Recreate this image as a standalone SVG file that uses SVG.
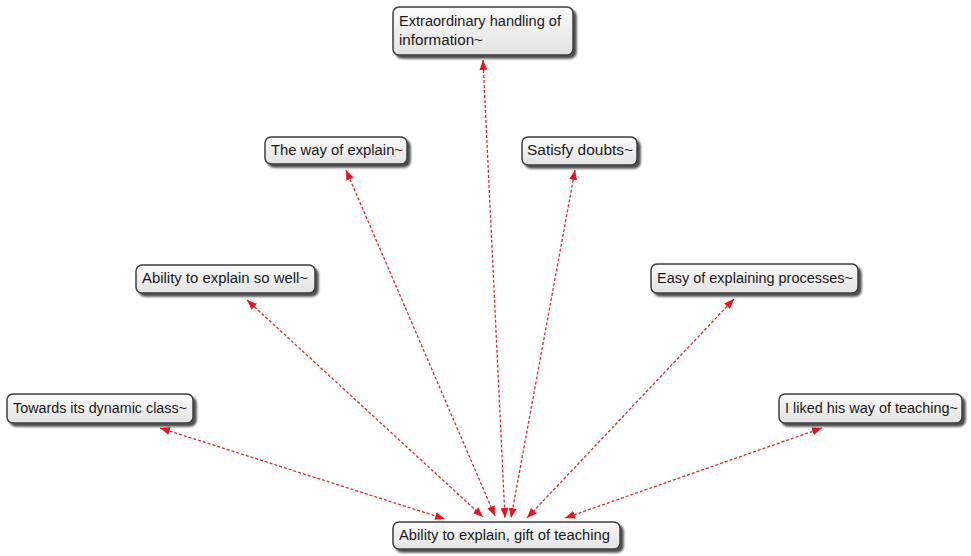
<svg xmlns="http://www.w3.org/2000/svg" width="971" height="556" viewBox="0 0 971 556">
  <defs>
    <linearGradient id="nodeFill" x1="0" y1="0" x2="0" y2="1">
      <stop offset="0" stop-color="#fbfbfb"/>
      <stop offset="1" stop-color="#e2e2e2"/>
    </linearGradient>
    <filter id="shadow" x="-10%" y="-30%" width="125%" height="170%">
      <feGaussianBlur in="SourceAlpha" stdDeviation="1.3"/>
      <feOffset dx="3" dy="3" result="s"/>
      <feComponentTransfer><feFuncA type="linear" slope="0.7"/></feComponentTransfer>
      <feMerge><feMergeNode/><feMergeNode in="SourceGraphic"/></feMerge>
    </filter>
    <marker id="arrow" viewBox="0 0 10 8" refX="10" refY="4" markerWidth="10" markerHeight="8" markerUnits="userSpaceOnUse" orient="auto-start-reverse">
      <path d="M0,0 L10,4 L0,8 Z" fill="#e4161b"/>
    </marker>
  </defs>
  <style>
    .box { fill: url(#nodeFill); stroke: #3c3c3c; stroke-width: 1.5; filter: url(#shadow); }
    .lbl { font-family: "Liberation Sans", "DejaVu Sans", sans-serif; font-size: 14px; fill: #1a1a1a; }
    .edge { stroke: #d62a2a; stroke-width: 1.3; stroke-dasharray: 3 2; fill: none; marker-start: url(#arrow); marker-end: url(#arrow); }
  </style>
  <rect width="971" height="556" fill="#ffffff"/>

  <g id="connectors">
    <line class="edge" x1="483" y1="60" x2="505" y2="518"/>
    <line class="edge" x1="346" y1="170" x2="495" y2="516"/>
    <line class="edge" x1="575" y1="170" x2="511" y2="518"/>
    <line class="edge" x1="247" y1="300" x2="483" y2="517"/>
    <line class="edge" x1="734" y1="299" x2="527" y2="518"/>
    <line class="edge" x1="160" y1="428" x2="445" y2="519"/>
    <line class="edge" x1="822" y1="428" x2="565" y2="518"/>
  </g>

  <g id="node-extraordinary">
    <rect class="box" x="393" y="7" width="180" height="48" rx="6"/>
    <text class="lbl" x="399" y="26" textLength="162" lengthAdjust="spacingAndGlyphs">Extraordinary handling of</text>
    <text class="lbl" x="399" y="45" textLength="84" lengthAdjust="spacingAndGlyphs">information~</text>
  </g>
  <g id="node-way-of-explain">
    <rect class="box" x="265" y="137" width="142" height="27" rx="6"/>
    <text class="lbl" x="271" y="155" textLength="132" lengthAdjust="spacingAndGlyphs">The way of explain~</text>
  </g>
  <g id="node-satisfy-doubts">
    <rect class="box" x="522" y="137" width="115" height="28" rx="6"/>
    <text class="lbl" x="527" y="155" textLength="106" lengthAdjust="spacingAndGlyphs">Satisfy doubts~</text>
  </g>
  <g id="node-explain-so-well">
    <rect class="box" x="136" y="265" width="179" height="28" rx="6"/>
    <text class="lbl" x="142" y="283" textLength="166" lengthAdjust="spacingAndGlyphs">Ability to explain so well~</text>
  </g>
  <g id="node-easy-explaining">
    <rect class="box" x="651" y="264" width="207" height="29" rx="6"/>
    <text class="lbl" x="657" y="283" textLength="196" lengthAdjust="spacingAndGlyphs">Easy of explaining processes~</text>
  </g>
  <g id="node-dynamic-class">
    <rect class="box" x="7" y="394" width="186" height="29" rx="6"/>
    <text class="lbl" x="13" y="413" textLength="174" lengthAdjust="spacingAndGlyphs">Towards its dynamic class~</text>
  </g>
  <g id="node-way-of-teaching">
    <rect class="box" x="779" y="394" width="183" height="29" rx="6"/>
    <text class="lbl" x="785" y="413" textLength="173" lengthAdjust="spacingAndGlyphs">I liked his way of teaching~</text>
  </g>
  <g id="node-gift-of-teaching">
    <rect class="box" x="393" y="522" width="227" height="27" rx="6"/>
    <text class="lbl" x="399" y="540" textLength="211" lengthAdjust="spacingAndGlyphs">Ability to explain, gift of teaching</text>
  </g>
</svg>
